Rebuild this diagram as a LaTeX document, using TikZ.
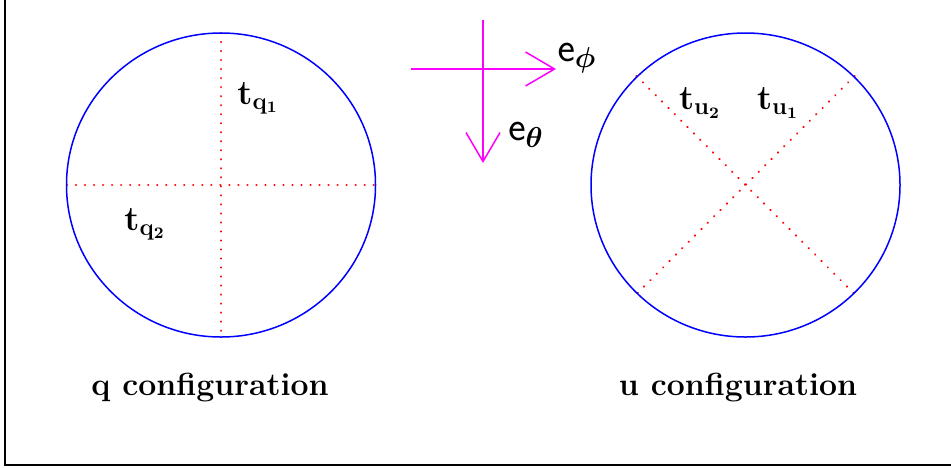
\documentclass[tikz,border=0pt]{standalone}
\usepackage{amsmath}
\usetikzlibrary{arrows.meta}
\definecolor{pinkline}{rgb}{1,0,1}
\begin{document}
\begin{tikzpicture}[
            x=0.5pt,
            y=-0.5pt,
            disc/.style={blue, line width=0.75pt},
            axis/.style={red, line width=1.2pt, line cap=round, dash pattern=on 0.01pt off 4.5pt},
            basis/.style={pinkline, line width=0.75pt, -{Straight Barb[length=14.5pt, width=17pt, line width=0.75pt]}},
            lbl/.style={inner sep=0pt, font=\fontsize{17}{19}\selectfont},
            caption/.style={inner sep=0pt, font=\fontsize{16}{19}\selectfont\bfseries}
        ]
        \useasboundingbox (0,0) rectangle (951,467);
        \draw[line width=1pt] (4.5,0) -- (4.5,465) -- (951,465);

        \coordinate (Cq) at (221,185);
        \coordinate (Cu) at (745.5,185);
        \coordinate (N1) at (221,33);
        \coordinate (S1) at (221,337);
        \coordinate (W1) at (67,185);
        \coordinate (E1) at (376,185);
        \coordinate (NW2) at (636.5,76);
        \coordinate (SE2) at (854.5,294);
        \coordinate (NE2) at (854.5,76);
        \coordinate (SW2) at (636.5,294);
        \coordinate (H0) at (411,69);
        \coordinate (H1) at (556,69);
        \coordinate (V0) at (483,20);
        \coordinate (V1) at (483,163);

        \draw[axis] (N1) -- (S1);
        \draw[axis] (W1) -- (E1);
        \draw[axis] (NW2) -- (SE2);
        \draw[axis] (NE2) -- (SW2);
        \draw[disc] (Cq) ellipse [x radius=154.5, y radius=152];
        \draw[disc] (Cu) ellipse [x radius=154.5, y radius=152];

        \draw[basis] (H0) -- (H1);
        \draw[basis] (V0) -- (V1);
        \node[lbl, font=\fontsize{20}{22}\selectfont] (ephi) at (577,58) {$\mathsf{e}_{\boldsymbol{\phi}}$};
        \node[lbl, font=\fontsize{20}{22}\selectfont] (etheta) at (526,135) {$\mathsf{e}_{\boldsymbol{\theta}}$};

        \node[lbl] (tq1) at (258,98) {$\mathbf{t}_{\mathbf{q}_{\mathbf{1}}}$};
        \node[lbl] (tq2) at (145,224) {$\mathbf{t}_{\mathbf{q}_{\mathbf{2}}}$};
        \node[lbl] (tu2) at (700,103) {$\mathbf{t}_{\mathbf{u}_{\mathbf{2}}}$};
        \node[lbl] (tu1) at (778,103) {$\mathbf{t}_{\mathbf{u}_{\mathbf{1}}}$};

        \node[caption] (qconf) at (210,388) {q\ configuration};
        \node[caption] (uconf) at (738,388) {u\ configuration};
    \end{tikzpicture}
\end{document}
